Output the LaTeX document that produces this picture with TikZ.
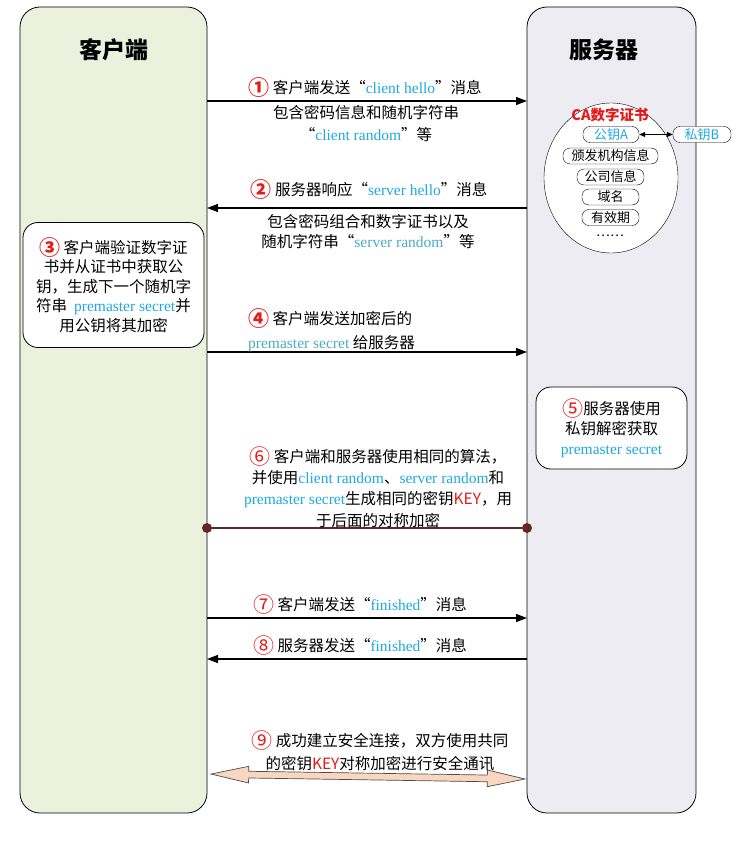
\documentclass[tikz,border=0pt]{standalone}
\usepackage{fontspec}
\setmainfont{Noto Sans CJK SC}
\newfontfamily\tnr{Liberation Serif}
\usetikzlibrary{arrows.meta,shapes.geometric,shapes.arrows}

\definecolor{clientbg}{RGB}{236,241,222}
\definecolor{serverbg}{RGB}{237,236,243}
\definecolor{lblue}{RGB}{30,168,222}
\definecolor{tealb}{RGB}{75,170,196}
\definecolor{redA}{RGB}{230,25,25}
\definecolor{keycol}{RGB}{100,38,38}
\definecolor{peach}{RGB}{248,214,192}

\newcommand\en[1]{{\tnr\color{lblue}#1}}
\newcommand\enb[1]{{\tnr\color{tealb}#1}}
\newcommand\stepnum[1]{\raisebox{-2pt}{\color{redA}\fontsize{21}{21}\selectfont#1}}
\newcommand\stepnumb[1]{\raisebox{-2pt}{\color{redA}\fontsize{21}{21}\selectfont\bfseries#1}}
\newcommand\keyword{{\color{redA}KEY}}

\begin{document}
\begin{tikzpicture}[x=1pt,y=-1pt,
  lane/.style={draw,rounded corners=20pt,line width=0.8pt,outer sep=0pt},
  title/.style={font=\fontsize{23}{23}\selectfont\bfseries},
  txt/.style={font=\fontsize{15.5}{21}\selectfont,align=center,inner sep=0pt},
  pill/.style={draw,fill=white,rounded corners=7pt,minimum height=16pt,inner sep=0pt,font=\fontsize{13}{13}\selectfont},
  note/.style={draw,fill=white,rounded corners=15pt,line width=0.8pt,inner sep=0pt},
  msg/.style={line width=1.3pt,-{Triangle[length=11pt,width=8pt]}},
  dot/.style={circle,fill=keycol,inner sep=0pt,minimum size=10pt},
  keyline/.style={line width=2.8pt,keycol}]
\useasboundingbox (0,0) rectangle (741,850);

% two lanes
\node[lane,fill=clientbg,minimum width=187pt,minimum height=806pt] (client) at (113.5,410) {};
\node[lane,fill=serverbg,minimum width=169pt,minimum height=806pt] (server) at (611.5,410) {};
\node[title] (ctitle) at (113.5,50) {客户端};
\node[title] (stitle) at (604,50) {服务器};

% step 1
\coordinate (y1) at (0,101);
\draw[msg] (client.east |- y1) -- (server.west |- y1);
\node[txt] (m1) at (365,88) {\stepnumb{①}\ 客户端发送“\en{client hello}”消息};
\node[txt,font=\fontsize{15.5}{22}\selectfont] (m1b) at (366,124) {包含密码信息和随机字符串\\“\en{client random}”等};

% certificate
\node[draw,ellipse,fill=white,minimum width=134pt,minimum height=150pt,inner sep=0pt] (cert) at (611,178) {};
\node[font=\fontsize{14.5}{14.5}\selectfont\bfseries,text=redA] (catitle) at (610,115) {CA数字证书};
\node[pill,minimum width=56pt,text=lblue] (pubA) at (611,134.5) {公钥A};
\node[pill,minimum width=58pt,text=lblue] (privB) at (702,134.5) {私钥B};
\node[pill,minimum width=95pt] (issuer) at (610.5,156) {颁发机构信息};
\node[pill,minimum width=67pt] (company) at (610.5,177) {公司信息};
\node[pill,minimum width=57pt] (domain) at (610.5,197) {域名};
\node[pill,minimum width=57pt] (valid) at (610.5,217.5) {有效期};
\node[font=\fontsize{13}{13}\selectfont] (more) at (610,236) {……};
\draw[{Triangle[length=6pt,width=5pt]}-{Triangle[length=6pt,width=5pt]},line width=0.8pt] (pubA) -- (privB);

% step 2
\coordinate (y2) at (0,208);
\draw[msg] (server.west |- y2) -- (client.east |- y2);
\node[txt] (m2) at (369,190) {\stepnumb{②}\ 服务器响应“\en{server hello}”消息};
\node[txt,font=\fontsize{15.5}{20}\selectfont] (m2b) at (368,232) {包含密码组合和数字证书以及\\随机字符串“\enb{server random}”等};

% step 3
\node[note,txt,font=\fontsize{15.5}{19.5}\selectfont,minimum width=181pt,minimum height=125pt] (verify) at (113.5,285)
  {\stepnumb{③}\ 客户端验证数字证\\书并从证书中获取公\\钥，生成下一个随机字\\符串\ \ \en{premaster secret}并\\用公钥将其加密};

% step 4
\coordinate (y4) at (0,352);
\draw[msg] (client.east |- y4) -- (server.west |- y4);
\node[txt,align=left,anchor=west,font=\fontsize{15.5}{24}\selectfont] (m4) at (248,330) {\stepnumb{④}\ 客户端发送加密后的\\\enb{premaster secret} 给服务器};

% step 5
\node[note,txt,font=\fontsize{15.5}{20}\selectfont,minimum width=151pt,minimum height=82pt] (decrypt) at (611.5,428)
  {\stepnum{⑤}服务器使用\\私钥解密获取\\\en{premaster secret}};

% step 6
\coordinate (y6) at (0,528);
\node[dot] (d6a) at (client.east |- y6) {};
\node[dot] (d6b) at (server.west |- y6) {};
\draw[keyline] (d6a) -- (d6b);
\node[txt,font=\fontsize{15.5}{21.3}\selectfont] (m6) at (378,487)
  {\stepnum{⑥}\ 客户端和服务器使用相同的算法，\\并使用\en{client random}、\en{server random}和\\\en{premaster secret}生成相同的密钥\keyword，用\\于后面的对称加密};

% step 7 and 8
\coordinate (y7) at (0,618);
\draw[msg] (client.east |- y7) -- (server.west |- y7);
\node[txt] (m7) at (360,605) {\stepnum{⑦}\ 客户端发送“\en{finished}”消息};
\coordinate (y8) at (0,659);
\draw[msg] (server.west |- y8) -- (client.east |- y8);
\node[txt] (m8) at (360,646) {\stepnum{⑧}\ 服务器发送“\en{finished}”消息};

% step 9
\node[double arrow,draw=black!70,fill=peach,line width=0.7pt,double arrow tip angle=25,
  double arrow head extend=5pt,minimum height=314pt,inner xsep=0pt,inner ysep=3pt,rotate=-0.9] (secure) at (368,776.5) {};
\node[txt,font=\fontsize{15.5}{23}\selectfont] (m9) at (380,751) {\stepnum{⑨}\ 成功建立安全连接，双方使用共同\\的密钥\keyword 对称加密进行安全通讯};
\end{tikzpicture}
\end{document}
